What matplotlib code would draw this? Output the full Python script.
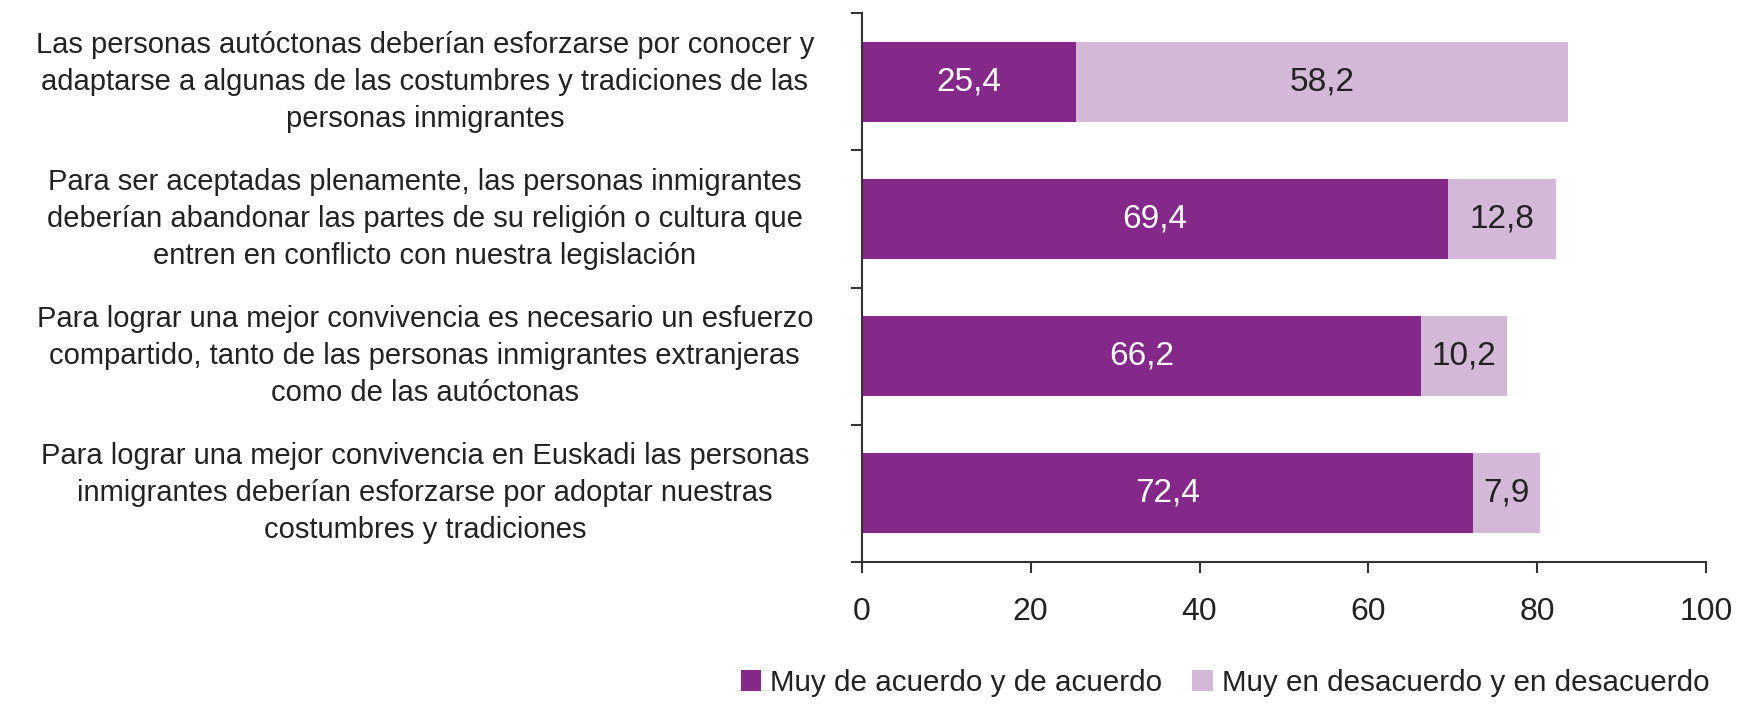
import matplotlib
matplotlib.use("Agg")
import matplotlib.pyplot as plt
from matplotlib.transforms import blended_transform_factory
from matplotlib.patches import Patch

plt.rcParams["font.family"] = ["Liberation Sans", "DejaVu Sans"]

CATEGORIES = [
    "Las personas autóctonas deberían esforzarse por conocer y\nadaptarse a algunas de las costumbres y tradiciones de las\npersonas inmigrantes",
    "Para ser aceptadas plenamente, las personas inmigrantes\ndeberían abandonar las partes de su religión o cultura que\nentren en conflicto con nuestra legislación",
    "Para lograr una mejor convivencia es necesario un esfuerzo\ncompartido, tanto de las personas inmigrantes extranjeras\ncomo de las autóctonas",
    "Para lograr una mejor convivencia en Euskadi las personas\ninmigrantes deberían esforzarse por adoptar nuestras\ncostumbres y tradiciones",
]
AGREE = [25.4, 69.4, 66.2, 72.4]
DISAGREE = [58.2, 12.8, 10.2, 7.9]
SERIES_LABELS = ["Muy de acuerdo y de acuerdo", "Muy en desacuerdo y en desacuerdo"]
X_TICKS = [0, 20, 40, 60, 80, 100]

DARK = "#84288A"
LIGHT = "#D4B8D8"
AXIS_COLOR = "#333333"
TEXT_COLOR = "#222222"


def fmt(v):
    return f"{v:.1f}".replace(".", ",")


fig = plt.figure(figsize=(17.41, 7.04), dpi=100)
ax = fig.add_axes([0.495, 0.202, 0.485, 0.779])

y = list(range(len(CATEGORIES)))
ax.barh(y, AGREE, height=0.58, color=DARK, edgecolor="none")
ax.barh(y, DISAGREE, left=AGREE, height=0.58, color=LIGHT, edgecolor="none")

for yi, a, d in zip(y, AGREE, DISAGREE):
    ax.text(a / 2, yi, fmt(a), ha="center", va="center", color="white", fontsize=24)
    ax.text(a + d / 2, yi, fmt(d), ha="center", va="center", color=TEXT_COLOR, fontsize=24)

ax.set_xlim(0, 100)
ax.set_ylim(len(CATEGORIES) - 0.5, -0.5)
ax.set_xticks(X_TICKS)
ax.set_xticklabels([str(t) for t in X_TICKS], fontsize=23, color=TEXT_COLOR)
ax.set_yticks([i - 0.5 for i in range(len(CATEGORIES) + 1)])
ax.set_yticklabels([])

# category labels centred in the left margin
trans = blended_transform_factory(fig.transFigure, ax.transData)
for yi, label in zip(y, CATEGORIES):
    ax.text(0.244, yi, label, transform=trans, ha="center", va="center",
            multialignment="center", fontsize=21, color=TEXT_COLOR, linespacing=1.4)

for side in ("top", "right"):
    ax.spines[side].set_visible(False)
for side in ("left", "bottom"):
    ax.spines[side].set_color(AXIS_COLOR)
    ax.spines[side].set_linewidth(1.5)
ax.tick_params(axis="x", direction="out", length=8, width=1.5, color=AXIS_COLOR, pad=17)
ax.tick_params(axis="y", direction="out", length=8, width=1.5, color=AXIS_COLOR)

handles = [Patch(facecolor=DARK, edgecolor="none"), Patch(facecolor=LIGHT, edgecolor="none")]
fig.legend(handles, SERIES_LABELS, loc="lower right", bbox_to_anchor=(0.997, -0.028),
           ncol=2, frameon=False, fontsize=21.3, handlelength=0.7, handleheight=0.7,
           handletextpad=0.3, columnspacing=1.0, labelcolor=TEXT_COLOR)

fig.savefig("out.png", dpi=100)
